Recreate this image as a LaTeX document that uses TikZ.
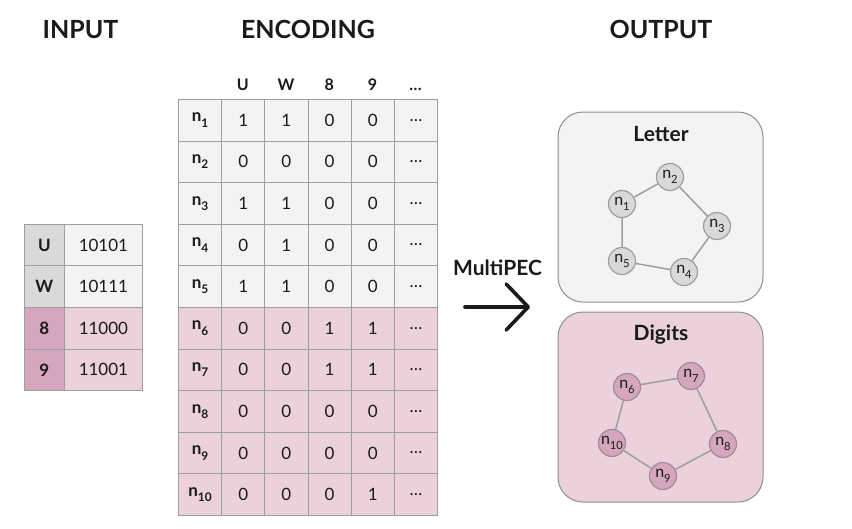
\documentclass[tikz,border=0pt]{standalone}
\usepackage{fontspec}
\setmainfont{Lato}
\usepackage{graphicx}
\usetikzlibrary{positioning,arrows.meta}

\definecolor{cellgrey}{HTML}{F3F3F3}
\definecolor{keygrey}{HTML}{D9D9D9}
\definecolor{cellpink}{HTML}{EAD1DC}
\definecolor{keypink}{HTML}{D5A6BD}
\definecolor{gridline}{HTML}{9E9E9E}
\definecolor{pinkline}{HTML}{A08A96}
\definecolor{ink}{HTML}{1A1A1A}

\newcommand{\nsub}[1]{n\raisebox{-.32em}{\scalebox{.7}{#1}}}

\begin{document}
\begin{tikzpicture}[x=1pt, y=-1pt, text=ink,
      cell/.style={draw=gridline, line width=0.8pt, minimum width=43.2pt,
        minimum height=41.6pt, inner sep=0pt, anchor=north west,
        font=\fontsize{17}{20}\selectfont},
      keycell/.style={cell, font=\fontsize{17}{20}\selectfont\bfseries},
      headtext/.style={anchor=base, inner sep=0pt, font=\fontsize{16}{18}\selectfont\bfseries},
      bigtitle/.style={anchor=base, inner sep=0pt, font=\fontsize{25}{28}\selectfont\bfseries},
      grouptitle/.style={anchor=base, inner sep=0pt, font=\fontsize{21}{24}\selectfont\bfseries},
      groupbox/.style={draw=gridline!90!black, line width=1pt, rounded corners=25pt,
        minimum width=205pt, minimum height=190pt},
      gnode/.style={circle, draw=gridline, line width=1.2pt, minimum size=27pt,
        inner sep=0pt, font=\fontsize{16}{18}\selectfont},
      gedge/.style={draw=gridline, line width=1.5pt}]
    \useasboundingbox (0,0) rectangle (852,528);
    % titles
    \node[bigtitle] (input) at (80.5,38) {INPUT};
    \node[bigtitle] (encoding) at (308,38) {ENCODING};
    \node[bigtitle] (output) at (661,38) {OUTPUT};
    % input table
    \foreach \key/\code/\ktone/\tone [count=\r] in {U/10101/keygrey/cellgrey,
        W/10111/keygrey/cellgrey, 8/11000/keypink/cellpink, 9/11001/keypink/cellpink} {
      \node[keycell, minimum width=40pt, fill=\ktone] (in-\r-k) at ({24},{182.2+41.6*\r}) {\key};
      \node[cell, minimum width=78pt, fill=\tone] (in-\r-v) at ({64},{182.2+41.6*\r}) {\code};
    }
    % encoding table
    \foreach \h [count=\k] in {U,W,8,9,\dots}
      \node[headtext] (h-\k) at ({199.6+43.2*\k},90.7) {\h};
    \foreach \r/\vu/\vw/\ve/\vn/\tone in {1/1/1/0/0/cellgrey, 2/0/0/0/0/cellgrey,
        3/1/1/0/0/cellgrey, 4/0/1/0/0/cellgrey, 5/1/1/0/0/cellgrey, 6/0/0/1/1/cellpink,
        7/0/0/1/1/cellpink, 8/0/0/0/0/cellpink, 9/0/0/0/0/cellpink, 10/0/0/0/1/cellpink} {
      \node[keycell, fill=\tone] (e-\r-0) at ({178},{57.4+41.6*\r}) {\nsub{\r}};
      \foreach \v [count=\k] in {\vu,\vw,\ve,\vn,\dots}
        \node[cell, fill=\tone] (e-\r-\k) at ({178+43.2*\k},{57.4+41.6*\r}) {\v};
    }
    % arrow
    \node[grouptitle] (mp-label) at (497.5,275) {MultiPEC};
    \coordinate (mp-tail) at (465,307);
    \coordinate (mp-tip) at (530,307);
    \draw[ink, line width=3.6pt, line cap=round,
      -{Straight Barb[length=22pt, width=46pt, round]}] (mp-tail) -- (mp-tip);
    % output: letter
    \node[groupbox, fill=cellgrey] (letterbox) at (660.5,207) {};
    \node[grouptitle] (lettertitle) at (661,141.5) {Letter};
    \foreach \i/\x/\y in {1/622/204, 2/670/177, 3/717/226, 4/684/272, 5/622/261}
      \node[gnode, fill=keygrey] (g\i) at (\x,\y) {\nsub{\i}};
    \draw[gedge] (g1) -- (g2) -- (g3) -- (g4) -- (g5) -- (g1);
    % output: digits
    \node[groupbox, fill=cellpink] (digitbox) at (660.5,407) {};
    \node[grouptitle] (digittitle) at (661,340.5) {Digits};
    \foreach \i/\x/\y in {6/627/387, 7/691/376, 8/723/444, 9/663/476, 10/612/443}
      \node[gnode, draw=pinkline, fill=keypink] (g\i) at (\x,\y) {\nsub{\i}};
    \draw[gedge] (g6) -- (g7) -- (g8) -- (g9) -- (g10) -- (g6);
  \end{tikzpicture}
\end{document}
